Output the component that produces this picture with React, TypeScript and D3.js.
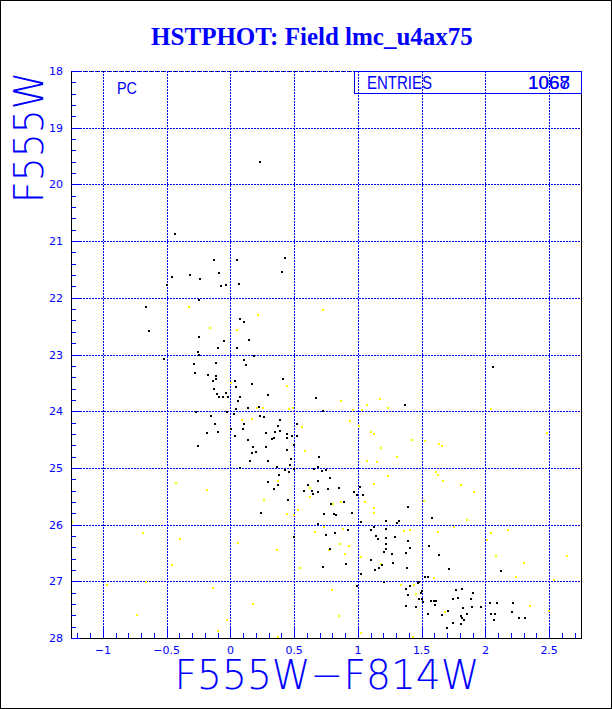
import React from "react";
import * as d3 from "d3";

const title = "HSTPHOT: Field lmc_u4ax75";
const xLabel = "F555W\u2212F814W";
const yLabel = "F555W";
const statLabel = "ENTRIES";
const statValues = ["1068", "1067"];
const panelLabel = "PC";

const xDomain = [-1.25, 2.75];
const yDomain = [18, 28];
const xMajorTicks = [-1, -0.5, 0, 0.5, 1, 1.5, 2, 2.5];
const xTickLabels = ["\u22121", "\u22120.5", "0", "0.5", "1", "1.5", "2", "2.5"];
const yMajorTicks = [18, 19, 20, 21, 22, 23, 24, 25, 26, 27, 28];
const yTickLabels = ["18", "19", "20", "21", "22", "23", "24", "25", "26", "27", "28"];

// black points: [F555W-F814W, F555W]
const blackStars: [number, number][] = [
  [-0.433, 20.87], [-0.131, 21.33], [0.049, 21.33], [-0.46, 21.64], [-0.32, 21.6], [-0.24, 21.67],
  [-0.092, 21.57], [-0.5, 21.77], [-0.074, 21.8], [-0.035, 21.77], [0.065, 21.75], [-0.246, 22.04],
  [-0.66, 22.16], [0.232, 19.6], [0.428, 21.3], [0.405, 21.55],
  [-0.641, 22.59], [0.078, 22.37], [-0.249, 22.69], [-0.053, 22.76], [-0.1, 22.89], [0.049, 22.89],
  [-0.257, 22.96], [-0.249, 23.01], [-0.52, 23.08], [-0.288, 23.16], [-0.115, 23.15], [-0.28, 23.32],
  [-0.178, 23.36], [-0.115, 23.38], [-0.115, 23.43], [-0.137, 23.47], [0.033, 23.47], [0.044, 23.57],
  [-0.126, 23.6], [-0.037, 23.68], [-0.107, 23.7], [-0.092, 23.75], [-0.06, 23.75], [-0.016, 23.75],
  [0.078, 23.75], [0.062, 23.82], [0.042, 23.97], [-0.029, 24.01], [0.026, 24.05], [-0.27, 24.01],
  [-0.152, 24.08], [-0.123, 24.23], [0.007, 24.31], [-0.097, 24.37], [-0.186, 24.38], [0.033, 24.43],
  [-0.257, 24.62], [0.075, 25.0],
  [0.104, 22.42], [0.146, 22.75], [0.182, 23.02], [0.107, 23.09], [0.125, 23.19], [0.412, 23.43],
  [0.169, 23.52], [0.295, 23.71], [0.674, 23.76], [0.222, 23.92], [0.136, 23.95], [1.372, 23.89],
  [0.724, 24.0], [0.235, 24.08], [0.264, 24.1], [0.107, 24.22], [0.099, 24.31], [0.387, 24.16],
  [0.522, 24.23], [0.373, 24.26], [0.389, 24.35], [0.352, 24.37], [0.277, 24.38], [0.444, 24.4],
  [0.483, 24.44], [0.52, 24.44], [0.444, 24.47], [0.138, 24.5], [0.326, 24.49], [0.34, 24.48],
  [0.496, 24.6], [0.177, 24.63], [0.277, 24.63], [0.444, 24.68], [0.169, 24.74], [0.198, 24.72],
  [0.475, 24.84], [0.695, 24.81], [0.154, 24.87], [0.295, 24.88], [0.467, 24.95], [0.363, 24.98],
  [0.687, 24.98], [0.653, 25.02], [0.721, 25.05], [0.752, 25.04], [0.426, 25.03], [0.457, 25.07],
  [0.499, 25.02], [0.379, 25.13], [0.781, 25.17], [0.687, 25.23],
  [2.06, 23.22],
  [0.292, 25.25], [0.371, 25.3], [0.34, 25.37], [0.609, 25.3], [0.637, 25.41], [0.577, 25.41],
  [0.646, 25.46], [0.687, 25.42], [0.763, 25.37], [0.849, 25.35], [1.016, 25.33], [0.969, 25.42],
  [1.037, 25.48], [0.993, 25.48], [0.449, 25.56], [0.888, 25.6], [0.786, 25.64], [0.237, 25.8],
  [0.732, 25.81], [0.815, 25.81], [0.828, 25.83], [0.953, 25.8], [1.392, 25.69], [1.022, 25.95],
  [0.687, 25.99], [1.32, 25.94], [1.304, 25.97], [1.218, 25.94], [1.126, 26.04], [1.103, 26.09],
  [1.218, 26.08], [0.922, 26.09], [0.82, 26.15], [0.75, 26.18], [0.496, 26.21], [1.14, 26.2],
  [1.155, 26.26], [1.218, 26.24], [1.289, 26.22], [1.393, 26.29], [1.218, 26.35], [1.41, 26.41],
  [0.779, 26.43], [1.218, 26.43], [1.205, 26.48], [1.267, 26.51], [1.377, 26.5], [1.105, 26.62],
  [1.275, 26.67], [0.904, 26.69], [1.187, 26.72], [0.724, 26.75], [1.163, 26.77], [1.385, 26.77],
  [1.134, 26.8], [1.022, 26.88], [1.205, 27.01], [0.993, 27.08], [1.406, 27.08], [1.375, 27.14],
  [1.39, 27.25], [1.375, 27.44],
  [1.581, 25.88], [1.555, 26.37], [1.634, 26.53], [1.712, 26.78], [2.12, 26.81], [1.524, 26.92],
  [1.55, 26.92], [1.482, 27.01], [1.469, 27.03], [1.502, 27.17], [1.492, 27.21], [1.767, 27.15],
  [1.814, 27.14], [1.9, 27.2], [1.502, 27.32], [1.477, 27.32], [1.511, 27.36], [1.573, 27.35],
  [1.599, 27.34], [1.612, 27.34], [1.607, 27.41], [1.744, 27.32], [1.783, 27.29], [1.885, 27.32],
  [2.036, 27.38], [2.091, 27.38], [2.214, 27.38], [1.454, 27.46], [1.71, 27.52], [1.822, 27.47],
  [1.893, 27.46], [1.964, 27.46], [2.212, 27.54], [1.55, 27.57], [1.66, 27.59], [1.853, 27.57],
  [2.042, 27.58], [2.073, 27.58], [1.806, 27.61], [1.819, 27.64], [1.835, 27.68], [2.069, 27.68],
  [2.265, 27.65], [2.311, 27.65], [1.747, 27.73], [1.81, 27.75], [1.697, 27.82],
];

// yellow points: [F555W-F814W, F555W]
const yellowStars: [number, number][] = [
  [-0.325, 22.16], [0.726, 22.22], [0.214, 22.31], [-0.163, 22.54], [0.052, 22.57], [0.005, 23.5],
  [0.444, 23.56], [0.865, 23.82], [1.176, 23.78], [1.071, 23.89], [1.234, 23.94], [0.256, 23.95],
  [0.46, 23.96], [0.491, 23.94], [0.209, 23.94], [0.964, 23.98], [1.03, 23.98], [0.167, 24.13],
  [0.091, 24.16], [0.23, 24.08], [0.936, 24.17], [0.559, 24.27], [1.009, 24.26], [1.1, 24.37],
  [1.124, 24.41], [0.585, 24.7], [1.181, 24.65], [1.306, 24.8], [1.074, 24.87], [1.15, 24.89],
  [1.238, 25.15], [0.373, 25.23],
  [2.044, 23.97], [1.421, 24.51], [1.525, 24.53], [1.64, 24.58], [1.656, 24.61], [2.483, 24.38],
  [1.61, 25.08], [1.626, 25.13], [1.667, 25.23],
  [-0.427, 25.27], [-0.186, 25.39], [-1.242, 25.96], [-0.685, 26.15], [-0.398, 26.25], [0.057, 26.32],
  [-0.46, 26.71], [-0.968, 27.06], [-0.664, 27.02], [-1.247, 27.19], [-0.137, 27.11], [-0.73, 27.59],
  [-0.024, 27.68], [-0.1, 27.87],
  [0.622, 25.35], [1.124, 25.28], [0.261, 25.57], [0.622, 25.51], [0.867, 25.6], [0.805, 25.64],
  [1.056, 25.6], [0.528, 25.74], [0.444, 25.81], [0.496, 25.83], [1.124, 25.7], [1.124, 25.79],
  [0.732, 26.04], [0.883, 26.08], [0.664, 26.13], [1.359, 26.11], [1.406, 26.09], [0.857, 26.35],
  [0.93, 26.38], [0.363, 26.45], [0.773, 26.45], [0.899, 26.52], [1.022, 26.58], [0.546, 26.77],
  [1.181, 26.7], [1.34, 27.06], [0.794, 27.15], [0.177, 27.4], [0.852, 27.62], [1.024, 27.91],
  [0.371, 27.99],
  [1.81, 25.3], [1.908, 25.42], [1.516, 25.58], [1.856, 25.92], [1.751, 26.04], [1.626, 26.13],
  [2.044, 26.14], [2.175, 26.1], [2.015, 26.28], [2.081, 26.55], [2.64, 26.55], [2.303, 26.67],
  [2.24, 26.93], [1.595, 26.94], [2.536, 26.98], [1.437, 27.06], [1.453, 27.22], [2.348, 27.44],
  [1.681, 27.55], [2.501, 27.52], [1.432, 27.99],
];

const W = 612;
const H = 709;
const BLUE = "#0000ff";

export default function App() {
  const left = 71, right = 581, top = 71, bottom = 638;
  const x = d3.scaleLinear().domain(xDomain).range([left, right]);
  const y = d3.scaleLinear().domain(yDomain).range([top, bottom]);

  const xMinor = d3.range(-12, 28).map((v) => v / 10);
  const yMinor = d3.range(90, 141).map((v) => v / 5);

  const thin = { fontFamily: "'DejaVu Sans', sans-serif", fontWeight: 200 as const };
  const plain = { fontFamily: "'Liberation Sans', Arial, sans-serif", fontWeight: 400 as const };
  const tickFont = { fontFamily: "'DejaVu Sans', sans-serif", fontWeight: 400 as const, fontSize: 11 };

  return (
    <svg
      width={W}
      height={H}
      style={{ position: "absolute", left: 0, top: 0, background: "#fff" }}
      shapeRendering="crispEdges"
    >
      <rect x={0.5} y={0.5} width={W - 1} height={H - 1} fill="#fff" stroke="#000" />
      {/* title */}
      <text
        x={312}
        y={45}
        textAnchor="middle"
        fill={BLUE}
        style={{ fontFamily: "'Liberation Serif', 'Times New Roman', serif", fontWeight: 700, fontSize: 25 }}
      >
        {title}
      </text>

      {/* grid */}
      {xMajorTicks.map((t) => (
        <line key={"gx" + t} x1={Math.round(x(t)) + 0.5} x2={Math.round(x(t)) + 0.5} y1={top} y2={bottom}
          stroke={BLUE} strokeDasharray="2 1" />
      ))}
      {yMajorTicks.slice(1, -1).map((t) => (
        <line key={"gy" + t} x1={left} x2={right} y1={Math.round(y(t)) + 0.5} y2={Math.round(y(t)) + 0.5}
          stroke={BLUE} strokeDasharray="2 1" />
      ))}

      {/* points */}
      {yellowStars.map(([a, b], i) => (
        <rect key={"y" + i} x={Math.round(x(a)) - 1} y={Math.round(y(b)) - 1} width={2} height={2} fill="#ffff00" />
      ))}
      {blackStars.map(([a, b], i) => (
        <rect key={"b" + i} x={Math.round(x(a)) - 1} y={Math.round(y(b)) - 1} width={2} height={2} fill="#000" />
      ))}

      {/* frame */}
      <line x1={left} x2={right} y1={top + 0.5} y2={top + 0.5} stroke="#000" strokeDasharray="1 1" />
      <line x1={left} x2={right} y1={top + 0.5} y2={top + 0.5} stroke={BLUE} strokeDasharray="2 1" />
      <line x1={left + 0.5} x2={left + 0.5} y1={top} y2={bottom + 1} stroke="#000" />
      <line x1={right + 0.5} x2={right + 0.5} y1={top} y2={bottom + 1} stroke="#000" />
      <line x1={left} x2={right + 1} y1={bottom + 0.5} y2={bottom + 0.5} stroke="#000" />

      {/* ticks */}
      {xMinor.map((t) => (
        <line key={"xm" + t} x1={Math.round(x(t)) + 0.5} x2={Math.round(x(t)) + 0.5} y1={bottom} y2={bottom - 5} stroke={BLUE} />
      ))}
      {xMajorTicks.map((t) => (
        <line key={"xM" + t} x1={Math.round(x(t)) + 0.5} x2={Math.round(x(t)) + 0.5} y1={bottom} y2={bottom - 10} stroke={BLUE} />
      ))}
      {yMinor.map((t) => (
        <line key={"ym" + t} x1={left} x2={left + 5} y1={Math.round(y(t)) + 0.5} y2={Math.round(y(t)) + 0.5} stroke={BLUE} />
      ))}
      {yMajorTicks.map((t) => (
        <line key={"yM" + t} x1={left} x2={left + 10} y1={Math.round(y(t)) + 0.5} y2={Math.round(y(t)) + 0.5} stroke={BLUE} />
      ))}

      {/* tick labels */}
      {xMajorTicks.map((t, i) => (
        <text key={"xl" + t} x={x(t)} y={654} textAnchor="middle" fill={BLUE} style={tickFont}>
          {xTickLabels[i]}
        </text>
      ))}
      {yMajorTicks.map((t, i) => (
        <text key={"yl" + t} x={63} y={y(t) + 4} textAnchor="end" fill={BLUE} style={tickFont}>
          {yTickLabels[i]}
        </text>
      ))}

      {/* axis titles */}
      <text x={327} y={689} textAnchor="middle" fill={BLUE} textLength={305} lengthAdjust="spacingAndGlyphs"
        style={{ ...thin, fontSize: 40 }}>
        {xLabel}
      </text>
      <text transform="translate(43,137.5) rotate(-90)" x={0} y={0} textAnchor="middle" fill={BLUE}
        textLength={131} lengthAdjust="spacingAndGlyphs" style={{ ...thin, fontSize: 40 }}>
        {yLabel}
      </text>

      {/* panel label */}
      <text x={117} y={94} fill={BLUE} style={{ ...plain, fontSize: 16 }} textLength={20} lengthAdjust="spacingAndGlyphs">
        {panelLabel}
      </text>

      {/* stats box */}
      <rect x={354.5} y={71.5} width={227} height={22} fill="none" stroke={BLUE} />
      <text x={367} y={89} fill={BLUE} style={{ ...plain, fontSize: 18 }} textLength={65} lengthAdjust="spacingAndGlyphs">
        {statLabel}
      </text>
      {statValues.map((v) => (
        <text key={v} x={570} y={89} textAnchor="end" fill={BLUE} style={{ ...plain, fontSize: 18 }}
          textLength={42} lengthAdjust="spacingAndGlyphs">
          {v}
        </text>
      ))}
    </svg>
  );
}
